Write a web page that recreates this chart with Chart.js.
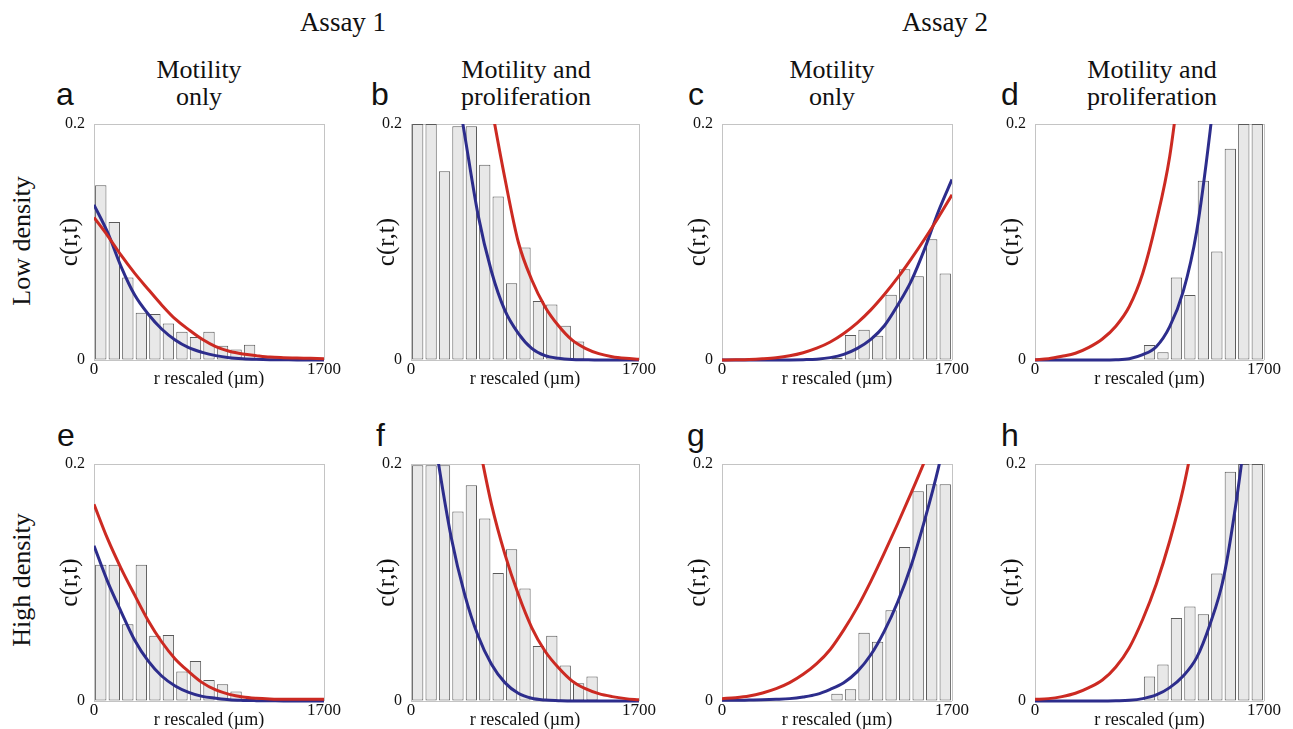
<!DOCTYPE html>
<html>
<head>
<meta charset="utf-8">
<script src="https://cdn.jsdelivr.net/npm/chart.js@4.4.1/dist/chart.umd.min.js"></script>
<style>
body { margin: 0; background: #fff; width: 1293px; height: 729px; position: relative; overflow: hidden;
       font-family: 'Liberation Serif', 'Times New Roman', serif; color: #111; }
.t { position: absolute; white-space: nowrap; }
.assay { font-size: 27px; line-height: 27px; transform: translateX(-50%); }
.col { font-size: 26px; line-height: 27px; text-align: center; transform: translateX(-50%); }
.lt { font-family: 'Liberation Sans', Arial, sans-serif; font-size: 32px; line-height: 32px; }
.row { font-size: 26px; line-height: 26px; transform: translate(-50%, -50%) rotate(-90deg); }
canvas { position: absolute; }
</style>
</head>
<body>
<div class="t assay" style="left:343px;top:9px">Assay 1</div>
<div class="t assay" style="left:945px;top:9px">Assay 2</div>

<div class="t col" style="left:199px;top:56px">Motility<br>only</div>
<div class="t col" style="left:526px;top:56px">Motility and<br>proliferation</div>
<div class="t col" style="left:832px;top:56px">Motility<br>only</div>
<div class="t col" style="left:1152px;top:56px">Motility and<br>proliferation</div>

<div class="t row" style="left:22px;top:241px">Low density</div>
<div class="t row" style="left:22px;top:580px">High density</div>

<script>
// Axes
const xTicks = [0, 1700];
const yTicks = [0, 0.2];

// Histogram bins (100 µm wide) and curve sample points
const binCentres = [50, 150, 250, 350, 450, 550, 650, 750, 850, 950, 1050, 1150, 1250, 1350, 1450, 1550, 1650];
const curveR = [0, 100, 200, 300, 400, 500, 600, 700, 800, 900, 1000, 1100, 1200, 1300, 1400, 1500, 1600, 1700];

// a - Assay 1, motility only, low density
const barsA = [0.148, 0.117, 0.070, 0.040, 0.039, 0.031, 0.024, 0.0195, 0.024, 0.012, 0.009, 0.013, 0, 0, 0, 0, 0];
const redA = [0.1208, 0.1055, 0.0888, 0.0736, 0.060, 0.0467, 0.0348, 0.0257, 0.0175, 0.0113, 0.0074, 0.0051, 0.0037, 0.0025, 0.002, 0.0017, 0.0014, 0.0011];
const blueA = [0.1315, 0.1083, 0.0792, 0.0552, 0.039, 0.0263, 0.017, 0.0105, 0.0065, 0.0037, 0.002, 0.0011, 0.0006, 0.0003, 0.0002, 0, 0, 0];

// b - Assay 1, motility and proliferation, low density
const barsB = [0.2, 0.2, 0.160, 0.198, 0.198, 0.1655, 0.1386, 0.065, 0.0953, 0.050, 0.047, 0.029, 0.0156, 0, 0, 0, 0];
const redB = [null, null, null, null, null, 0.28, 0.215, 0.154, 0.100, 0.068, 0.045, 0.029, 0.017, 0.0099, 0.0054, 0.0028, 0.0014, 0.0006];
const blueB = [null, null, null, 0.26, 0.191, 0.123, 0.075, 0.042, 0.0226, 0.0099, 0.0037, 0.0015, 0.0005, 0.0002, 0, 0, 0, 0];

// c - Assay 2, motility only, low density
const barsC = [0, 0, 0, 0, 0, 0, 0, 0, 0.002, 0.0212, 0.0257, 0.0206, 0.0554, 0.077, 0.071, 0.1024, 0.0733];
const redC = [0, 0.0002, 0.0005, 0.0011, 0.002, 0.0036, 0.0062, 0.010, 0.0153, 0.0225, 0.0315, 0.0425, 0.0555, 0.070, 0.086, 0.103, 0.121, 0.140];
const blueC = [0, 0, 0, 0, 0, 0.0001, 0.0003, 0.0007, 0.002, 0.0048, 0.0099, 0.0175, 0.029, 0.0467, 0.0673, 0.0948, 0.126, 0.153];

// d - Assay 2, motility and proliferation, low density
const barsD = [0, 0, 0, 0, 0, 0, 0, 0, 0.0127, 0.0065, 0.070, 0.055, 0.152, 0.092, 0.179, 0.2, 0.2];
const redD = [0.0003, 0.0011, 0.0031, 0.0057, 0.0107, 0.0178, 0.0286, 0.0453, 0.0735, 0.117, 0.1725, 0.26, null, null, null, null, null, null];
const blueD = [0, 0, 0, 0, 0, 0, 0.0002, 0.0011, 0.0045, 0.0113, 0.0283, 0.058, 0.109, 0.194, 0.30, null, null, null];

// e - Assay 1, motility only, high density
const barsE = [0.115, 0.115, 0.0648, 0.115, 0.055, 0.0558, 0.025, 0.0338, 0.0177, 0.0141, 0.008, 0, 0, 0, 0, 0, 0];
const redE = [0.166, 0.137, 0.112, 0.0896, 0.068, 0.050, 0.0355, 0.0248, 0.0155, 0.0093, 0.0056, 0.0034, 0.0023, 0.0017, 0.0014, 0.0014, 0.0014, 0.0014];
const blueE = [0.131, 0.101, 0.0755, 0.0515, 0.0338, 0.0211, 0.0127, 0.0073, 0.0039, 0.0023, 0.001, 0.0005, 0.0003, 0.0002, 0, 0, 0, 0];

// f - Assay 1, motility and proliferation, high density
const barsF = [0.199, 0.199, 0.199, 0.160, 0.182, 0.154, 0.108, 0.128, 0.095, 0.0465, 0.055, 0.030, 0.0149, 0.0206, 0, 0, 0];
const redF = [null, null, null, null, 0.27, 0.22, 0.166, 0.124, 0.090, 0.062, 0.042, 0.028, 0.017, 0.0104, 0.0062, 0.0037, 0.002, 0.001];
const blueF = [null, 0.28, 0.204, 0.138, 0.090, 0.055, 0.031, 0.0155, 0.0065, 0.0023, 0.0008, 0.0003, 0, 0, 0, 0, 0, 0];

// g - Assay 2, motility only, high density
const barsG = [0, 0, 0, 0, 0, 0, 0, 0, 0.0062, 0.0099, 0.0577, 0.050, 0.0766, 0.130, 0.177, 0.183, 0.183];
const redG = [0.002, 0.0028, 0.0042, 0.0068, 0.0104, 0.0155, 0.0225, 0.0315, 0.0435, 0.060, 0.079, 0.101, 0.125, 0.150, 0.176, 0.203, 0.232, null];
const blueG = [0.0006, 0.0006, 0.0008, 0.001, 0.0014, 0.002, 0.0034, 0.0056, 0.0099, 0.0155, 0.0248, 0.039, 0.059, 0.084, 0.115, 0.1535, 0.197, 0.25];

// h - Assay 2, motility and proliferation, high density
const barsH = [0, 0, 0, 0, 0, 0, 0, 0, 0.0206, 0.0307, 0.070, 0.0797, 0.0732, 0.1076, 0.1935, 0.2, 0.2];
const redH = [0.0014, 0.002, 0.0037, 0.0065, 0.0113, 0.0177, 0.0287, 0.045, 0.069, 0.0986, 0.135, 0.179, 0.235, null, null, null, null, null];
const blueH = [0, 0, 0, 0, 0, 0, 0.0002, 0.0006, 0.002, 0.0051, 0.0113, 0.0211, 0.0366, 0.065, 0.104, 0.173, 0.26, null];

const serif = "'Liberation Serif', 'Times New Roman', serif";
Chart.defaults.font.family = serif;
Chart.defaults.color = '#111';

const colours = {
    red: '#cc2a22',
    blue: '#2d2d8c',
    barFill: '#e8e8e8',
    barLine: '#5a5a5a',
    frame: '#c4c4c4'
};

// plot-area boxes (page pixels) for each panel
const panels = [
    { letter: 'a', lx: 56,   ly: 78,  l: 94,   r: 324,  t: 124, b: 360, bars: barsA, red: redA, blue: blueA },
    { letter: 'b', lx: 371,  ly: 78,  l: 411,  r: 639,  t: 124, b: 360, bars: barsB, red: redB, blue: blueB },
    { letter: 'c', lx: 688,  ly: 78,  l: 722,  r: 952,  t: 124, b: 360, bars: barsC, red: redC, blue: blueC },
    { letter: 'd', lx: 1001, ly: 78,  l: 1035, r: 1264, t: 124, b: 360, bars: barsD, red: redD, blue: blueD },
    { letter: 'e', lx: 57,   ly: 419, l: 94,   r: 324,  t: 464, b: 701, bars: barsE, red: redE, blue: blueE },
    { letter: 'f', lx: 376,  ly: 419, l: 411,  r: 639,  t: 464, b: 701, bars: barsF, red: redF, blue: blueF },
    { letter: 'g', lx: 687,  ly: 419, l: 722,  r: 952,  t: 464, b: 701, bars: barsG, red: redG, blue: blueG },
    { letter: 'h', lx: 1001, ly: 419, l: 1035, r: 1264, t: 464, b: 701, bars: barsH, red: redH, blue: blueH }
];

const AXIS_W = 45, AXIS_H = 30, PAD_T = 12, PAD_R = 25;

// fixed axis boxes so every plot area lands on the same pixels
function fixBox(s, w, h) {
    if (w) s.width = w;
    if (h) s.height = h;
    s.paddingTop = 0;
    s.paddingBottom = 0;
    s.paddingLeft = 0;
    s.paddingRight = 0;
}

function curve(values, colour, order) {
    return {
        type: 'line',
        data: curveR.map((r, i) => ({ x: r, y: values[i] })),
        borderColor: colour,
        borderWidth: 3,
        pointRadius: 0,
        cubicInterpolationMode: 'monotone',
        clip: { left: 0, top: 0, right: 0, bottom: 3 },
        order: order
    };
}

panels.forEach(p => {
    const lab = document.createElement('div');
    lab.className = 't lt';
    lab.style.left = p.lx + 'px';
    lab.style.top = p.ly + 'px';
    lab.textContent = p.letter;
    document.body.appendChild(lab);

    const canvas = document.createElement('canvas');
    canvas.width = (p.r - p.l) + AXIS_W + PAD_R;
    canvas.height = (p.b - p.t) + PAD_T + AXIS_H;
    canvas.style.left = (p.l - AXIS_W) + 'px';
    canvas.style.top = (p.t - PAD_T) + 'px';
    document.body.appendChild(canvas);

    new Chart(canvas, {
        type: 'bar',
        data: {
            datasets: [
                curve(p.red, colours.red, 0),
                curve(p.blue, colours.blue, 1),
                {
                    type: 'bar',
                    data: binCentres.map((x, i) => ({ x: x, y: p.bars[i] > 0 ? p.bars[i] : null })),
                    backgroundColor: colours.barFill,
                    borderColor: colours.barLine,
                    borderWidth: 1,
                    borderSkipped: false,
                    categoryPercentage: 1,
                    barPercentage: 0.84,
                    order: 2
                }
            ]
        },
        options: {
            responsive: false,
            animation: false,
            events: [],
            layout: { padding: { top: PAD_T, right: PAD_R, left: 0, bottom: 0 } },
            plugins: { legend: { display: false }, tooltip: { enabled: false } },
            scales: {
                x: {
                    type: 'linear',
                    min: 0,
                    max: 1700,
                    offset: false,
                    afterBuildTicks: s => { s.ticks = xTicks.map(v => ({ value: v })); },
                    ticks: { padding: -1, maxRotation: 0, autoSkip: false, font: { size: 17 }, callback: v => String(v) },
                    grid: { offset: false, color: colours.frame, drawTicks: false },
                    border: { display: false },
                    title: { display: true, text: 'r rescaled (µm)', font: { size: 18 }, padding: { top: 0, bottom: 0 } },
                    afterFit: s => fixBox(s, 0, AXIS_H)
                },
                y: {
                    type: 'linear',
                    min: 0,
                    max: 0.2,
                    afterBuildTicks: s => { s.ticks = yTicks.map(v => ({ value: v })); },
                    ticks: { padding: 9, font: { size: 16 }, callback: v => String(v) },
                    grid: { color: colours.frame, drawTicks: false },
                    border: { display: false },
                    title: { display: true, text: 'c(r,t)', font: { size: 25 }, padding: { top: 6, bottom: 0 } },
                    afterFit: s => fixBox(s, AXIS_W, 0)
                }
            }
        }
    });
});
</script>
</body>
</html>
